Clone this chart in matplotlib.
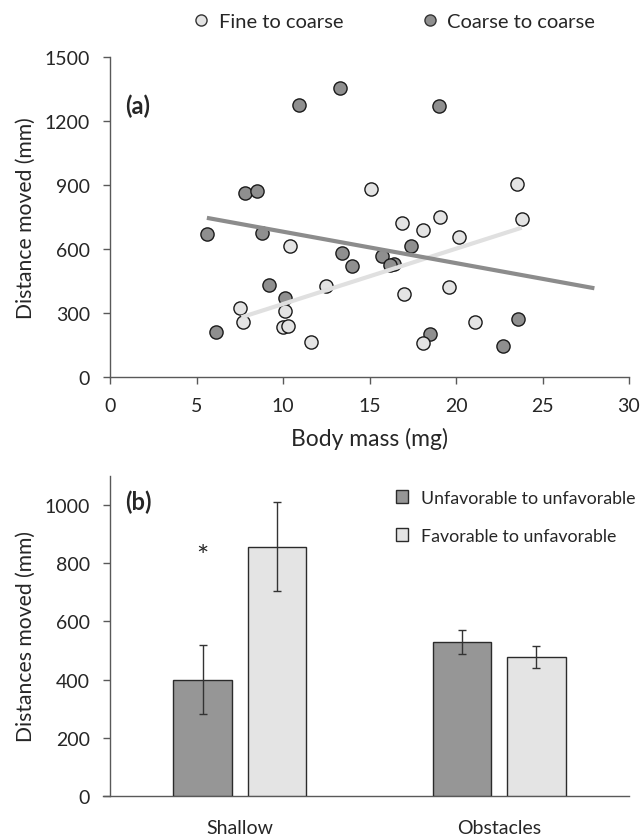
import matplotlib
matplotlib.use("Agg")
import matplotlib.pyplot as plt
from matplotlib.lines import Line2D
from matplotlib.patches import Patch

plt.rcParams['font.family'] = ['Lato', 'DejaVu Sans']

# panel (a): body mass vs distance moved
fine_x = [7.5, 7.7, 10.1, 10.0, 10.3, 10.4, 11.6, 12.5, 15.1, 16.9, 17.0,
          18.1, 18.1, 19.1, 19.6, 20.2, 21.1, 23.5, 23.8]
fine_y = [322, 257, 311, 234, 241, 615, 164, 425, 880, 724, 388,
          687, 160, 748, 424, 657, 260, 907, 740]
coarse_x = [5.6, 6.1, 7.8, 8.5, 8.8, 9.2, 10.1, 10.9, 13.3, 13.4, 14.0,
            15.7, 16.4, 16.2, 17.4, 18.5, 19.0, 22.7, 23.6]
coarse_y = [668, 210, 864, 872, 673, 431, 369, 1273, 1355, 581, 519,
            567, 530, 527, 615, 202, 1269, 145, 273]
# trend lines as drawn in the original
fine_fit_x = [7.6, 23.8]
fine_fit_y = [280, 700]
coarse_fit_x = [5.6, 28.0]
coarse_fit_y = [746, 416]

# panel (b): mean distances by habitat
habitats = ['Shallow', 'Obstacles']
unfav_mean = [400, 528]
unfav_se = [118, 41]
fav_mean = [856, 477]
fav_se = [153, 38]

dark = '#8f8f8f'
light = '#e4e4e4'
edge = '#2b2b2b'
axis_col = '#595959'
txt = '#262626'

fig = plt.figure(figsize=(6.41, 8.37), dpi=100)
ax1 = fig.add_axes([110/641, 1-378/837, 519/641, 320/837])
ax2 = fig.add_axes([110/641, 1-797.4/837, 519/641, 320.8/837])

for ax in (ax1, ax2):
    for s in ('top', 'right'):
        ax.spines[s].set_visible(False)
    for s in ('left', 'bottom'):
        ax.spines[s].set_color(axis_col)
        ax.spines[s].set_linewidth(1.0)
    ax.tick_params(colors=axis_col, labelcolor=txt, labelsize=14,
                   length=5, width=1.0, direction='out')
    ax.tick_params(axis='y', pad=9.5)

# --- panel (a)
ms = 9.5
ax1.plot(coarse_x, coarse_y, 'o', ms=ms, mfc=dark, mec='#1a1a1a', mew=1.0, zorder=3)
ax1.plot(fine_x, fine_y, 'o', ms=ms, mfc=light, mec='#1a1a1a', mew=1.0, zorder=4)
ax1.plot(fine_fit_x, fine_fit_y, color='#e0e0e0', lw=3, zorder=5,
         solid_capstyle='butt')
ax1.plot(coarse_fit_x, coarse_fit_y, color='#8c8c8c', lw=3, zorder=6,
         solid_capstyle='butt')
ax1.set_xlim(0, 30)
ax1.set_ylim(0, 1500)
ax1.set_xticks(range(0, 31, 5))
ax1.set_yticks(range(0, 1501, 300))
ax1.tick_params(axis='x', pad=9.5)
ax1.set_xlabel('Body mass (mg)', fontsize=16.5, color=txt, labelpad=9)
ax1.set_ylabel('Distance moved (mm)', fontsize=15.2, color=txt, labelpad=6)
ax1.text(0.03, 0.85, '(a)', transform=ax1.transAxes, fontsize=17,
         fontweight='bold', color=txt, va='center')

handles = [
    Line2D([], [], ls='none', marker='o', ms=8, mfc=light, mec='#333333', mew=1.0),
    Line2D([], [], ls='none', marker='o', ms=8, mfc=dark, mec='#333333', mew=1.0),
]
fig.legend(handles, ['Fine to coarse', 'Coarse to coarse'], loc='center',
           bbox_to_anchor=(394/641, 1-22/837), ncol=2, frameon=False,
           fontsize=14.5, handlelength=0.8, handletextpad=0.45,
           columnspacing=3.9, labelcolor=txt, borderpad=0, borderaxespad=0)

# --- panel (b)
w = 0.225
off = 0.1435
xs = range(len(habitats))
ax2.bar([i - off for i in xs], unfav_mean, w, yerr=unfav_se, color='#969696',
        edgecolor=edge, linewidth=1.0, capsize=2.8,
        error_kw=dict(ecolor='#333333', elinewidth=1.0, capthick=1.0),
        label='Unfavorable to unfavorable', zorder=3)
ax2.bar([i + off for i in xs], fav_mean, w, yerr=fav_se, color=light,
        edgecolor=edge, linewidth=1.0, capsize=2.8,
        error_kw=dict(ecolor='#333333', elinewidth=1.0, capthick=1.0),
        label='Favorable to unfavorable', zorder=3)
ax2.set_xlim(-0.5, 1.5)
ax2.set_ylim(0, 1100)
ax2.spines['bottom'].set_bounds(-0.527, 1.5)
ax2.set_yticks(range(0, 1001, 200))
ax2.set_xticks(list(xs))
ax2.set_xticklabels(habitats)
ax2.tick_params(axis='x', length=0, pad=16)
ax2.set_ylabel('Distances moved (mm)', fontsize=15.2, color=txt, labelpad=6)
ax2.text(0.03, 0.92, '(b)', transform=ax2.transAxes, fontsize=17,
         fontweight='bold', color=txt, va='center')
ax2.text(0 - off, 822, '*', ha='center', va='center', fontsize=21, color=txt)

bh = [Patch(facecolor='#969696', edgecolor=edge, linewidth=1.0),
      Patch(facecolor=light, edgecolor=edge, linewidth=1.0)]
ax2.legend(bh, ['Unfavorable to unfavorable', 'Favorable to unfavorable'],
           loc='upper left', bbox_to_anchor=((396-110)/519, 0.956), frameon=False,
           fontsize=12.8, handlelength=0.67, handleheight=0.67,
           handletextpad=0.73, labelspacing=1.24, labelcolor=txt,
           borderpad=0, borderaxespad=0)

fig.savefig('out.png', dpi=100)
